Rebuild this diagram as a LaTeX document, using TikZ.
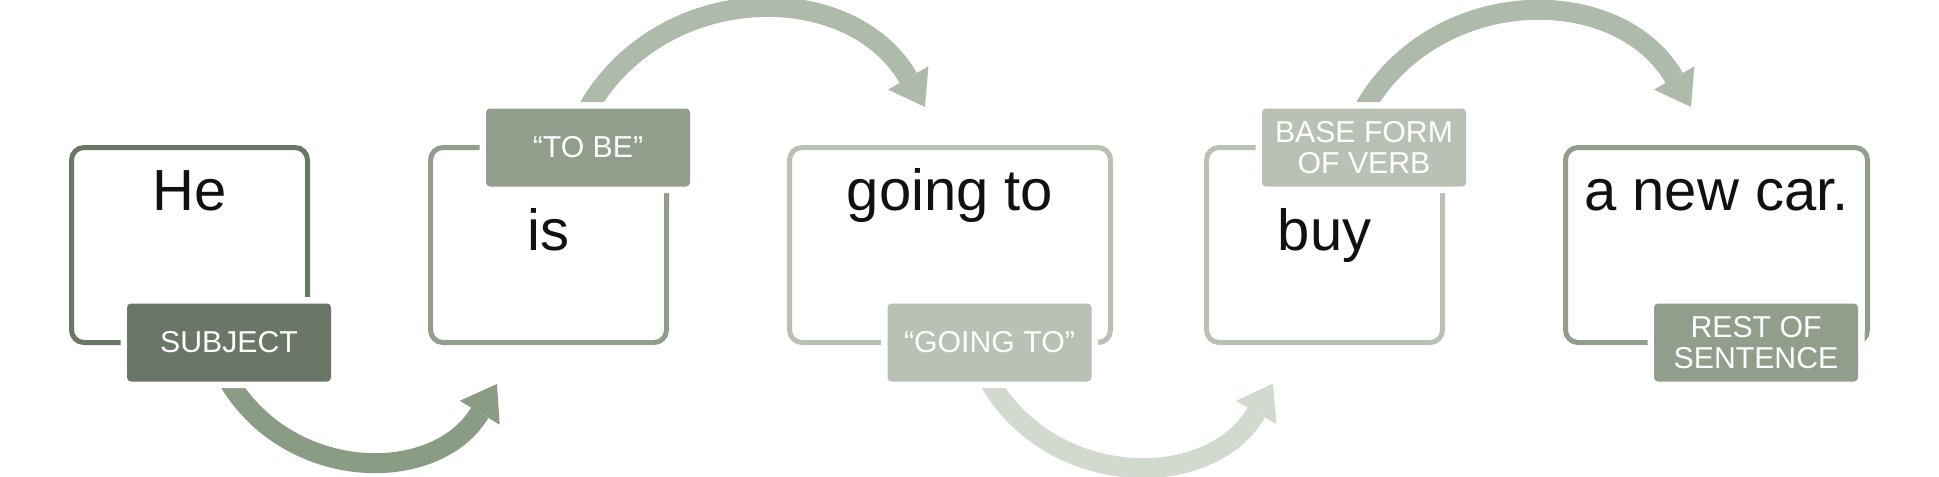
\documentclass[tikz,border=0pt]{standalone}
\usepackage{fontspec}
\setmainfont{Liberation Sans}
\usepackage{tikz}
\usetikzlibrary{positioning}
\usetikzlibrary{calc}
\usetikzlibrary{arrows.meta}
\usetikzlibrary{backgrounds}
\usepackage{xcolor}
\definecolor{sageDark}{HTML}{6A7766}
\definecolor{sageMid}{HTML}{919E8B}
\definecolor{sageLight}{HTML}{B8C1B4}
\definecolor{arrowDark}{HTML}{8A9C84}
\definecolor{arrowMid}{HTML}{AEBAAA}
\definecolor{arrowLight}{HTML}{D2D9CF}
\definecolor{ink}{HTML}{111111}
\newcommand{\GTheight}{3.9cm}
\newcommand{\GTwidth}{4.72cm}
\tikzset{GT_box/.style={
		rectangle,
		draw,
		line width=0.1cm,
		rounded corners=0.25cm,
		fill=white,
		inner sep = 0pt,
		outer sep = 0pt,
		minimum width=\GTwidth, 
		minimum height=\GTheight,
	}
}
\tikzset{GT_tag/.style={
		rectangle,
		rounded corners=0.08cm,
		preaction={draw=white, line width=0.26cm},
		inner sep = 0pt,
		outer sep = 0pt,
		minimum width=4.08cm, 
		minimum height=1.56cm,
		text=white,
		align=center,
		font=\fontsize{17.2}{18.1}\selectfont,
		xshift=0.79cm,
	}
}
\tikzset{GT_word/.style={
		inner sep = 0pt,
		anchor=base,
		text=ink,
		font=\fontsize{33}{40}\selectfont,
	}
}
\tikzset{GT_bend/.style={
		line width=0.4cm,
		-{Triangle[length=0.67cm, width=0.93cm, line width=0pt]},
		looseness=1.13,
	}
}

\begin{document}
\begin{tikzpicture}[node distance = 2.46cm]
\useasboundingbox (0,0) rectangle (38.78,-9.52);

% boxes
\node[GT_box, draw=sageDark] (he) at (3.79,-4.9) {};
\node[GT_box, draw=sageMid, right = of he] (is) {};
\node[GT_box, draw=sageLight, minimum width=6.42cm, right = of is] (going) {};
\node[GT_box, draw=sageLight, right = 1.92cm of going] (buy) {};
\node[GT_box, draw=sageMid, minimum width=6.04cm, right = of buy] (car) {};

% words
\node[GT_word] (wHe) at ([yshift=-1.25cm]he.north) {He};
\node[GT_word] (wIs) at ([yshift=-2.05cm]is.north) {is};
\node[GT_word] (wGoing) at ([yshift=-1.25cm]going.north) {going to};
\node[GT_word] (wBuy) at ([yshift=-2.05cm]buy.north) {buy};
\node[GT_word] (wCar) at ([yshift=-1.25cm]car.north) {a new car.};

% tags
\node[GT_tag, fill=sageDark] (tSubj) at (he.south) {SUBJECT};
\node[GT_tag, fill=sageMid] (tBe) at (is.north) {“TO BE”};
\node[GT_tag, fill=sageLight] (tGoing) at (going.south) {“GOING TO”};
\node[GT_tag, fill=sageLight] (tBase) at (buy.north) {BASE FORM\\OF VERB};
\node[GT_tag, fill=sageMid] (tRest) at (car.south) {REST OF\\SENTENCE};

% arrow tips
\coordinate (t1) at ([shift={(1.33,-0.83)}]is.south west);
\coordinate (t2) at ([shift={(2.71,0.81)}]going.north west);
\coordinate (t3) at ([shift={(1.33,-0.82)}]buy.south west);
\coordinate (t4) at ([shift={(2.51,0.81)}]car.north west);

\begin{pgfonlayer}{background}
\draw[GT_bend, arrowDark] (tSubj.south) to[out=-59, in=-121] (t1);
\draw[GT_bend, arrowMid] (tBe.north) to[out=60, in=120] (t2);
\draw[GT_bend, arrowLight] (tGoing.south) to[out=-60, in=-120] (t3);
\draw[GT_bend, arrowMid] (tBase.north) to[out=60, in=120] (t4);
\end{pgfonlayer}

\end{tikzpicture}
\end{document}
